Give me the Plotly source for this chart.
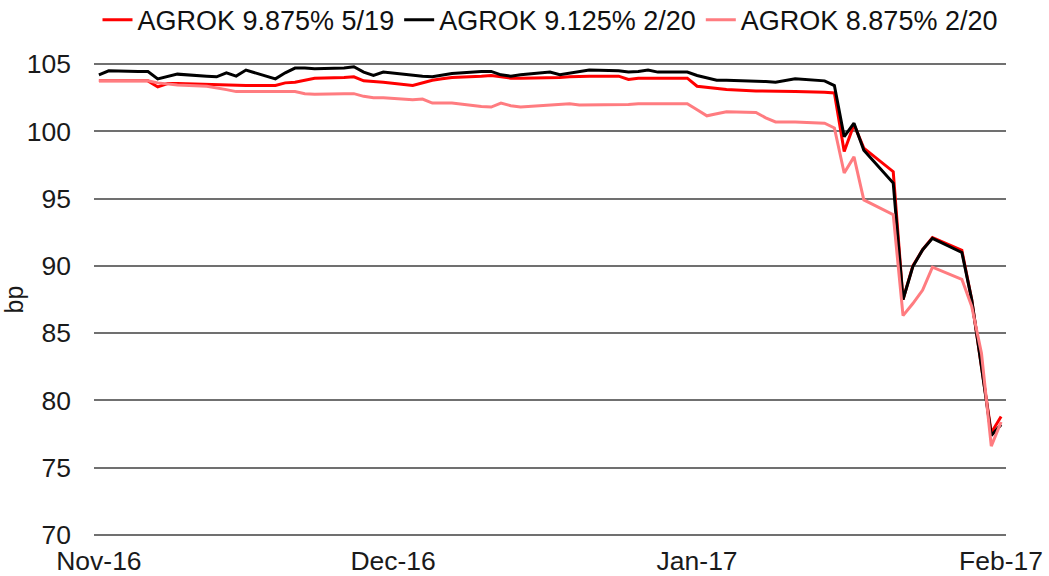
import plotly.graph_objects as go

dates = [
    "2016-11-03", "2016-11-04",
    "2016-11-07", "2016-11-08", "2016-11-09", "2016-11-10", "2016-11-11",
    "2016-11-14", "2016-11-15", "2016-11-16", "2016-11-17", "2016-11-18",
    "2016-11-21", "2016-11-22", "2016-11-23", "2016-11-24", "2016-11-25",
    "2016-11-28", "2016-11-29", "2016-11-30", "2016-12-01", "2016-12-02",
    "2016-12-05", "2016-12-06", "2016-12-07", "2016-12-08", "2016-12-09",
    "2016-12-12", "2016-12-13", "2016-12-14", "2016-12-15", "2016-12-16",
    "2016-12-19", "2016-12-20", "2016-12-21", "2016-12-22", "2016-12-23",
    "2016-12-26", "2016-12-27", "2016-12-28", "2016-12-29", "2016-12-30",
    "2017-01-02", "2017-01-03", "2017-01-04", "2017-01-05", "2017-01-06",
    "2017-01-09", "2017-01-10", "2017-01-11", "2017-01-12", "2017-01-13",
    "2017-01-16", "2017-01-17", "2017-01-18", "2017-01-19", "2017-01-20",
    "2017-01-23", "2017-01-24", "2017-01-25", "2017-01-26", "2017-01-27",
    "2017-01-30", "2017-01-31", "2017-02-01", "2017-02-02", "2017-02-03",
]

agrok_9875_519 = [
    103.75, 103.75,
    103.75, 103.75, 103.30, 103.55, 103.55,
    103.50, 103.45, 103.45, 103.40, 103.40,
    103.40, 103.60, 103.65, 103.80, 103.95,
    104.00, 104.05, 103.75, 103.70, 103.65,
    103.40, 103.60, 103.80, 103.90, 104.00,
    104.10, 104.15, 104.05, 103.95, 103.95,
    103.95, 104.00, 104.05, 104.10, 104.10,
    104.10, 103.85, 103.95, 103.95, 103.95,
    103.95, 103.35, 103.25, 103.15, 103.10,
    103.00, 103.00, 102.95, 102.95, 102.95,
    102.90, 102.85, 98.50, 100.50, 98.75,
    97.00, 87.50, 90.00, 91.20, 92.10,
    91.15, 87.50, 82.50, 77.60, 78.80,
]

agrok_9125_220 = [
    104.20, 104.50,
    104.45, 104.45, 103.90, 104.10, 104.25,
    104.10, 104.05, 104.35, 104.10, 104.55,
    103.90, 104.35, 104.70, 104.70, 104.65,
    104.70, 104.80, 104.40, 104.15, 104.40,
    104.15, 104.10, 104.05, 104.20, 104.30,
    104.45, 104.45, 104.20, 104.10, 104.20,
    104.40, 104.20, 104.30, 104.45, 104.55,
    104.50, 104.40, 104.45, 104.55, 104.40,
    104.40, 104.15, 104.00, 103.80, 103.80,
    103.75, 103.70, 103.65, 103.80, 103.90,
    103.75, 103.40, 99.60, 100.60, 98.60,
    96.15, 87.50, 89.95, 91.20, 92.05,
    91.00, 87.50, 82.50, 77.40, 78.20,
]

agrok_8875_220 = [
    103.75, 103.75,
    103.75, 103.75, 103.60, 103.50, 103.45,
    103.35, 103.25, 103.10, 102.95, 102.95,
    102.95, 102.95, 102.95, 102.80, 102.75,
    102.80, 102.80, 102.60, 102.50, 102.50,
    102.35, 102.40, 102.10, 102.10, 102.10,
    101.85, 101.80, 102.10, 101.90, 101.80,
    101.95, 102.05, 102.05, 101.95, 101.95,
    101.95, 102.00, 102.05, 102.05, 102.05,
    102.05, 101.60, 101.15, 101.30, 101.45,
    101.40, 101.00, 100.70, 100.70, 100.70,
    100.60, 100.25, 96.90, 98.10, 94.90,
    93.80, 86.30, 87.20, 88.20, 89.90,
    89.00, 87.00, 83.50, 76.60, 78.40,
]

series_names = ["AGROK 9.875% 5/19", "AGROK 9.125% 2/20", "AGROK 8.875% 2/20"]
series_colors = ["#FF0000", "#000000", "#FF7C80"]
series_values = [agrok_9875_519, agrok_9125_220, agrok_8875_220]

x_tickvals = ["2016-11-03", "2016-12-03", "2017-01-03", "2017-02-03"]
y_tickvals = [70, 75, 80, 85, 90, 95, 100, 105]

FONT = "Liberation Sans, Arial, sans-serif"
GRID = "#707070"

fig = go.Figure()
for name, color, vals in zip(series_names, series_colors, series_values):
    fig.add_trace(go.Scatter(
        x=dates, y=vals, mode="lines", name=name,
        line=dict(color=color, width=3),
    ))

# bottom gridline (plotly omits the one at the lowest tick)
fig.add_hline(y=y_tickvals[0], line=dict(color=GRID, width=2), layer="below")

fig.update_layout(
    width=1049, height=576,
    margin=dict(l=94, r=43, t=60, b=37, autoexpand=False),
    paper_bgcolor="white", plot_bgcolor="white",
    font=dict(family=FONT, size=27, color="#1a1a1a"),
    showlegend=True,
    legend=dict(
        orientation="h", x=0.5, xanchor="center", y=1.083, yanchor="middle",
        font=dict(family=FONT, size=27, color="#111111"),
        itemwidth=30, tracegroupgap=0,
    ),
    xaxis=dict(
        type="date",
        range=["2016-11-02 12:00", "2017-02-03 12:00"],
        tickvals=x_tickvals, tickformat="%b-%y",
        showgrid=False, showline=False, zeroline=False,
        ticks="", ticklabelstandoff=3,
        tickfont=dict(family=FONT, size=26.5, color="#1a1a1a"),
    ),
    yaxis=dict(
        range=[69.7, 105.3],
        tickvals=y_tickvals,
        showgrid=True, gridcolor=GRID, gridwidth=2,
        showline=False, zeroline=False, ticks="",
        ticklabelstandoff=22,
        tickfont=dict(family=FONT, size=26.5, color="#1a1a1a"),
        title=dict(text="bp", standoff=1, font=dict(family=FONT, size=25, color="#1a1a1a")),
    ),
)

fig.write_html(
    "out.html",
    config={"displayModeBar": False},
    post_script="document.body.style.margin='0';document.body.style.padding='0';",
)
